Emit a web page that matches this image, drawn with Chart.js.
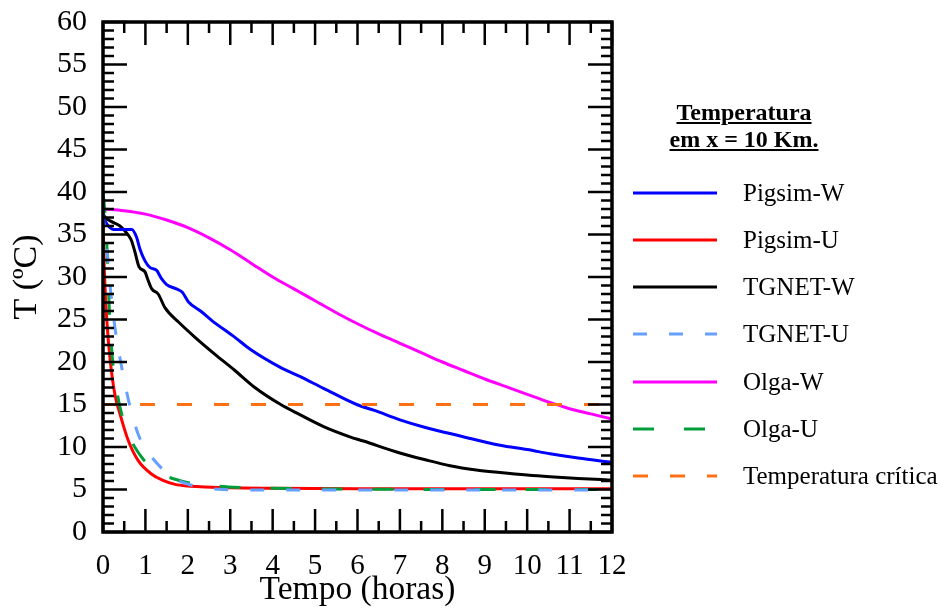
<!DOCTYPE html>
<html><head><meta charset="utf-8">
<script src="https://cdn.jsdelivr.net/npm/chart.js@4.4.1/dist/chart.umd.min.js"></script>
<style>
body{margin:0;background:#fff;}
#wrap{position:relative;width:942px;height:610px;overflow:hidden;background:#fff;}
canvas{position:absolute;left:0;top:0;}
#legend{position:absolute;left:0;top:0;width:942px;height:610px;font-family:'Liberation Serif','Times New Roman',serif;color:#000;}
.ttl{position:absolute;left:619px;top:99px;width:250px;text-align:center;font-weight:bold;font-size:24px;line-height:27px;text-decoration:underline;white-space:nowrap;}
.row{position:absolute;left:633px;height:30px;width:309px;}
.row svg{position:absolute;left:0;top:12px;}
.row span{position:absolute;left:110px;top:0;font-size:25px;line-height:30px;white-space:nowrap;}
</style></head><body>
<div id="wrap"><canvas id="c" width="942" height="610"></canvas><div id="legend"></div></div>
<script>
// ---- data (time in hours, temperature in ºC) ----
const legendTitle = ['Temperatura', 'em x = 10 Km.'];
const seriesNames = ['Pigsim-W','Pigsim-U','TGNET-W','TGNET-U','Olga-W','Olga-U','Temperatura crítica'];
const xTicks = [0,1,2,3,4,5,6,7,8,9,10,11,12];
const yTicks = [0,5,10,15,20,25,30,35,40,45,50,55,60];

const tPigsimW = [0,0.05,0.15,0.24,0.68,0.79,0.87,0.99,1.11,1.26,1.38,1.5,1.73,1.87,2.01,2.3,2.56,3.11,3.47,4.17,4.64,5.2,5.98,6.4,7.0,7.6,8.42,9.36,10.0,10.54,11.2,12];
const pigsimW  = [37.5,36.6,35.9,35.6,35.6,34.7,33.3,31.9,31.1,30.8,29.8,29.1,28.6,28.2,27.1,26.0,24.9,22.9,21.5,19.4,18.3,16.9,15.0,14.3,13.2,12.3,11.3,10.2,9.7,9.2,8.7,8.2];

const tPigsimU = [0,0.03,0.09,0.17,0.28,0.4,0.6,0.83,1.15,1.4,1.7,2.0,2.4,3.0,4,6,8,10,12];
const pigsimU  = [37.0,31.0,24.9,20.2,16.2,13.9,10.7,8.4,6.8,6.1,5.6,5.4,5.3,5.2,5.15,5.1,5.1,5.1,5.1];

const tTgnetW = [0,0.05,0.17,0.4,0.6,0.67,0.75,0.85,0.99,1.05,1.15,1.3,1.46,1.78,2.17,2.64,3.11,3.58,4.17,4.64,5.2,5.82,6.14,7.0,7.6,8.18,8.8,9.36,10.0,10.54,11.2,12];
const tgnetW  = [37.5,37.0,36.6,36.0,34.9,34.3,33.0,31.2,30.6,29.8,28.6,28.0,26.4,24.7,22.9,20.9,19.0,17.0,15.05,13.8,12.4,11.2,10.7,9.3,8.5,7.8,7.3,7.0,6.7,6.5,6.3,6.1];

const tTgnetU = [0,0.04,0.09,0.17,0.28,0.44,0.64,0.83,1.0,1.15,1.4,1.62,1.9,2.17,2.8,3.5,5,8,12];
const tgnetU  = [37.5,35.5,33.5,28.8,24.1,19.4,14.7,11.5,9.8,8.8,7.4,6.4,5.8,5.4,5.0,4.95,4.95,4.95,4.95];

const tOlgaW = [0,0.5,1,1.5,2,2.5,3,3.5,4,4.5,5,5.5,6,6.5,7,7.5,8,8.5,9,9.5,10,10.5,11,11.5,12];
const olgaW  = [38.0,37.8,37.4,36.7,35.8,34.6,33.2,31.6,30.0,28.6,27.2,25.8,24.5,23.3,22.2,21.1,20.0,19.0,18.0,17.1,16.2,15.3,14.5,13.9,13.3];

const tOlgaU = [0,0.05,0.09,0.13,0.17,0.24,0.32,0.4,0.6,0.91,1.15,1.38,1.7,2.01,2.5,2.95,3.5,4.5,6,8,10,12];
const olgaU  = [40.0,37.3,33.9,28.4,24.1,19.4,16.8,14.7,11.5,8.8,7.6,6.8,6.2,5.8,5.5,5.3,5.2,5.1,5.05,5.0,5.0,5.0];

const tCrit = [0,12];
const critTemp = [15,15];

// ---- styles ----
const colors = ['#0000FF','#FF0000','#000000','#66A0FF','#FF00FF','#009E3A','#FF7014'];
const dashes = [[],[],[],[14,22],[],[21,30],[15,22]];
const drawOrder = [3,6,4,1,5,2,0];

const xs = [tPigsimW,tPigsimU,tTgnetW,tTgnetU,tOlgaW,tOlgaU,tCrit];
const ys = [pigsimW,pigsimU,tgnetW,tgnetU,olgaW,olgaU,critTemp];

const serif = "'Liberation Serif','Times New Roman',serif";

const datasets = seriesNames.map((name,i)=>({
  label:name,
  data: xs[i].map((t,k)=>({x:t,y:ys[i][k]})),
  borderColor: colors[i],
  backgroundColor: colors[i],
  borderWidth: 3,
  borderDash: dashes[i],
  pointRadius: 0,
  fill: false,
  cubicInterpolationMode: 'monotone',
  order: drawOrder[i]
}));

const frameTicks = {
  id:'frameTicks',
  afterDatasetsDraw(chart){
    const {ctx, chartArea:a, scales:{x,y}} = chart;
    ctx.save();
    ctx.strokeStyle='#000'; ctx.lineWidth=2.5; ctx.lineCap='butt'; ctx.setLineDash([]);
    ctx.beginPath();
    for (let i=0;i<xTicks.length;i++){
      const major = xTicks[i];
      const pts = [major];
      if (i<xTicks.length-1) pts.push((major+xTicks[i+1])/2);
      pts.forEach((v,j)=>{
        const px=x.getPixelForValue(v); const L = j===0?23:11;
        ctx.moveTo(px,a.bottom); ctx.lineTo(px,a.bottom-L);
        ctx.moveTo(px,a.top); ctx.lineTo(px,a.top+L);
      });
    }
    const ymax = yTicks[yTicks.length-1];
    for (let v=0; v<=ymax; v++){
      const py=y.getPixelForValue(v); const L = yTicks.includes(v)?24:11;
      ctx.moveTo(a.left,py); ctx.lineTo(a.left+L,py);
      ctx.moveTo(a.right,py); ctx.lineTo(a.right-L,py);
    }
    ctx.stroke();
    ctx.lineWidth=3.5;
    ctx.strokeRect(a.left,a.top,a.right-a.left,a.bottom-a.top);
    ctx.restore();
  }
};

new Chart(document.getElementById('c'),{
  type:'line',
  data:{datasets},
  options:{
    responsive:false,
    devicePixelRatio:1,
    animation:false,
    layout:{padding:{top:22,right:330,left:0,bottom:0}},
    plugins:{legend:{display:false},tooltip:{enabled:false}},
    scales:{
      x:{
        type:'linear', min:xTicks[0], max:xTicks[xTicks.length-1],
        afterFit:(s)=>{s.height=78; s.paddingLeft=0; s.paddingRight=0;},
        afterBuildTicks:(s)=>{s.ticks = xTicks.map(v=>({value:v}));},
        grid:{display:false,drawTicks:false,tickLength:0},
        border:{display:false},
        ticks:{autoSkip:false,maxRotation:0,minRotation:0,padding:17,color:'#000',font:{family:serif,size:29}},
        title:{display:true,text:'Tempo (horas)',color:'#000',font:{family:serif,size:33.5},padding:{top:0,bottom:0}}
      },
      y:{
        type:'linear', min:yTicks[0], max:yTicks[yTicks.length-1],
        afterFit:(s)=>{s.width=103; s.paddingTop=0; s.paddingBottom=0;},
        afterBuildTicks:(s)=>{s.ticks = yTicks.map(v=>({value:v}));},
        grid:{display:false,drawTicks:false,tickLength:0},
        border:{display:false},
        ticks:{autoSkip:false,padding:16,color:'#000',font:{family:serif,size:30}},
        title:{display:true,text:'T (ºC)',color:'#000',font:{family:serif,size:34},padding:{top:7,bottom:0}}
      }
    }
  },
  plugins:[frameTicks]
});

// ---- HTML legend built from the datasets ----
const leg = document.getElementById('legend');
const ttl = document.createElement('div');
ttl.className='ttl';
ttl.innerHTML = legendTitle.join('<br>');
leg.appendChild(ttl);
datasets.forEach((ds,i)=>{
  const rowY = 192.5 + i*47.3;
  const row = document.createElement('div');
  row.className='row';
  row.style.top = (rowY-15)+'px';
  const dash = ds.borderDash.length ? ds.borderDash.join(' ') : 'none';
  row.innerHTML = '<svg width="84" height="6"><line x1="0" y1="3" x2="84" y2="3" stroke="'+ds.borderColor+'" stroke-width="3" stroke-dasharray="'+dash+'"/></svg><span></span>';
  row.querySelector('span').textContent = ds.label;
  leg.appendChild(row);
});
</script></body></html>
